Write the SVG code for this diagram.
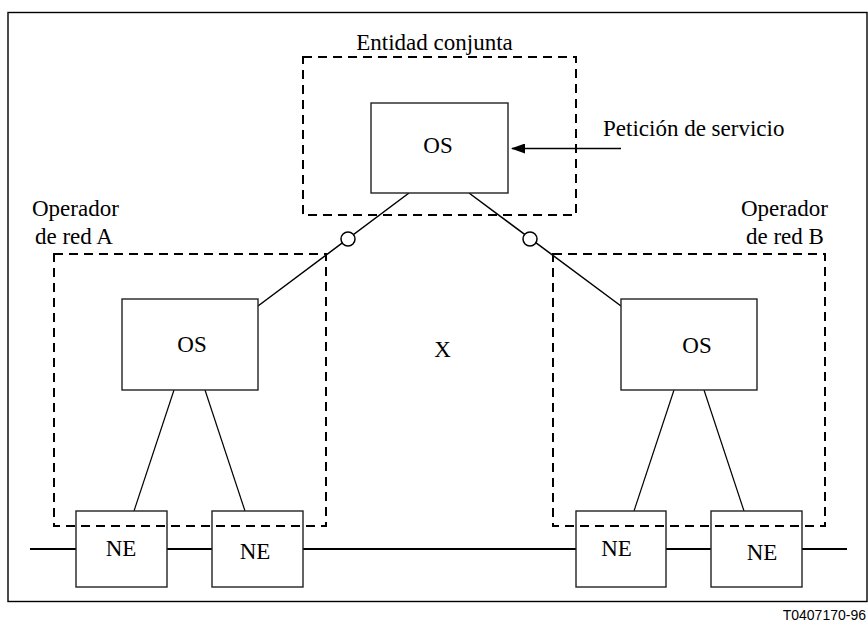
<svg xmlns="http://www.w3.org/2000/svg" width="868" height="624" viewBox="0 0 868 624">
<style>
.t{font-family:'Liberation Serif','Times New Roman',serif;font-size:23px;fill:#000}
.box{fill:#fff;stroke:#222;stroke-width:1.4}
.dash{fill:none;stroke:#000;stroke-width:2;stroke-dasharray:9,6}
.ln{stroke:#000;stroke-width:1.5;fill:none}
.thin{stroke:#000;stroke-width:1.2;fill:none}
.bus{stroke:#000;stroke-width:2.2;fill:none}
.ring{fill:#fff;stroke:#000;stroke-width:1.5}
</style>
<defs>
<marker id="ah" markerWidth="14" markerHeight="10" refX="13" refY="5" orient="auto" markerUnits="userSpaceOnUse">
<path d="M0,0 L14,5 L0,10 Z" fill="#000"/>
</marker>
</defs>
<rect width="868" height="624" fill="#fff"/>
<rect id="frame" x="8" y="12.5" width="859" height="589" fill="none" stroke="#000" stroke-width="1.4"/>
<g id="connectors">
<line class="bus" x1="30" y1="549" x2="847" y2="549"/>
<line class="ln" x1="409" y1="193" x2="258" y2="306"/>
<line class="ln" x1="469" y1="193" x2="621" y2="306"/>
<line class="thin" x1="174" y1="390" x2="134" y2="511"/>
<line class="thin" x1="205" y1="390" x2="245" y2="511"/>
<line class="thin" x1="674" y1="390" x2="634" y2="511"/>
<line class="thin" x1="704" y1="390" x2="744" y2="511"/>
<line class="ln" x1="621" y1="148.5" x2="512" y2="148.5" stroke-width="2" marker-end="url(#ah)"/>
<circle class="ring" cx="348" cy="239" r="7"/>
<circle class="ring" cx="530" cy="239" r="7"/>
</g>
<g id="os-top">
<rect class="box" x="371" y="103" width="137" height="90"/>
<text class="t" x="438" y="153" text-anchor="middle">OS</text>
</g>
<g id="os-a">
<rect class="box" x="122" y="299" width="136" height="91"/>
<text class="t" x="192" y="352" text-anchor="middle">OS</text>
</g>
<g id="os-b">
<rect class="box" x="621" y="299" width="136" height="91"/>
<text class="t" x="697" y="353" text-anchor="middle">OS</text>
</g>
<g id="ne1">
<rect class="box" x="76" y="511" width="91" height="76"/>
<text class="t" x="121" y="556" text-anchor="middle">NE</text>
</g>
<g id="ne2">
<rect class="box" x="212" y="511" width="91" height="76"/>
<text class="t" x="255" y="559" text-anchor="middle">NE</text>
</g>
<g id="ne3">
<rect class="box" x="576" y="511" width="90" height="76"/>
<text class="t" x="616.5" y="556" text-anchor="middle">NE</text>
</g>
<g id="ne4">
<rect class="box" x="711" y="511" width="91" height="76"/>
<text class="t" x="762" y="560" text-anchor="middle">NE</text>
</g>
<g id="entidad-conjunta">
<rect class="dash" x="303" y="57" width="273" height="158"/>
<text class="t" x="434.5" y="50" text-anchor="middle">Entidad conjunta</text>
</g>
<g id="operador-a">
<rect class="dash" x="54" y="254" width="272" height="272"/>
<text class="t" x="32" y="216">Operador</text>
<text class="t" x="35" y="244">de red A</text>
</g>
<g id="operador-b">
<rect class="dash" x="553" y="254" width="272" height="272"/>
<text class="t" x="741" y="216">Operador</text>
<text class="t" x="746" y="244">de red B</text>
</g>
<g id="peticion">
<text class="t" x="603" y="136">Petición de servicio</text>
</g>
<g id="x-label">
<text class="t" x="442.5" y="357" text-anchor="middle">X</text>
</g>
<text x="866" y="620" text-anchor="end" font-family="Liberation Sans, Arial, sans-serif" font-size="14" fill="#000">T0407170-96</text>
</svg>
